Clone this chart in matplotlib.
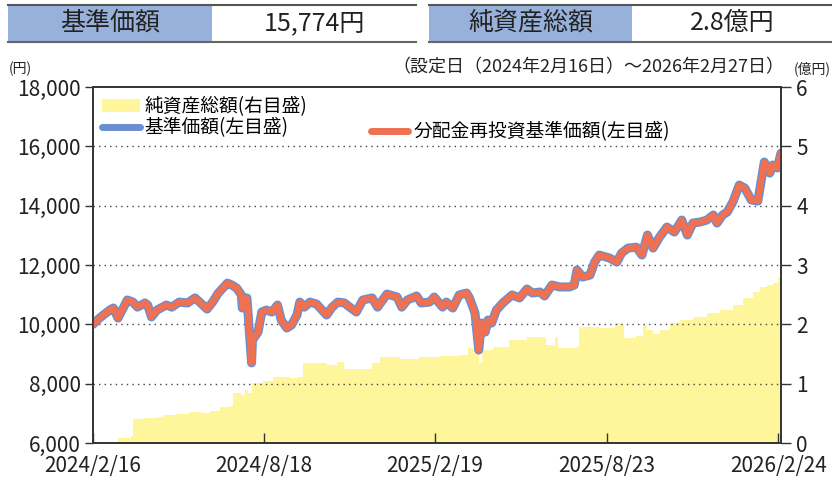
import matplotlib
matplotlib.use("Agg")
import matplotlib.pyplot as plt
from matplotlib.patches import Rectangle, Patch
from matplotlib.lines import Line2D
import pandas as pd

plt.rcParams['font.family'] = ['Noto Sans CJK JP', 'DejaVu Sans']

# 基準価額 (円)
nav_dates = [
    "2024-02-16", "2024-02-23", "2024-03-05", "2024-03-09", "2024-03-14", "2024-03-24",
    "2024-03-30", "2024-04-04", "2024-04-12", "2024-04-15", "2024-04-19", "2024-04-25",
    "2024-05-05", "2024-05-11", "2024-05-19", "2024-05-28", "2024-06-05", "2024-06-10",
    "2024-06-18", "2024-06-24", "2024-06-30", "2024-07-05", "2024-07-10", "2024-07-15",
    "2024-07-20", "2024-07-25", "2024-07-26", "2024-07-31", "2024-08-01", "2024-08-05",
    "2024-08-06", "2024-08-12", "2024-08-16", "2024-08-21", "2024-08-27", "2024-09-02",
    "2024-09-06", "2024-09-12", "2024-09-17", "2024-09-23", "2024-09-26", "2024-10-01",
    "2024-10-07", "2024-10-14", "2024-10-25", "2024-10-31", "2024-11-06", "2024-11-13",
    "2024-11-26", "2024-12-03", "2024-12-13", "2024-12-19", "2024-12-29", "2025-01-09",
    "2025-01-14", "2025-01-20", "2025-01-30", "2025-02-04", "2025-02-13", "2025-02-18",
    "2025-02-27", "2025-03-03", "2025-03-10", "2025-03-17", "2025-03-25", "2025-03-28",
    "2025-04-03", "2025-04-07", "2025-04-10", "2025-04-14", "2025-04-17", "2025-04-21",
    "2025-04-26", "2025-05-03", "2025-05-13", "2025-05-21", "2025-05-29", "2025-06-04",
    "2025-06-12", "2025-06-17", "2025-06-25", "2025-07-03", "2025-07-14", "2025-07-19",
    "2025-07-22", "2025-07-28", "2025-08-05", "2025-08-10", "2025-08-15", "2025-08-26",
    "2025-09-03", "2025-09-08", "2025-09-15", "2025-09-24", "2025-09-30", "2025-10-06",
    "2025-10-12", "2025-10-19", "2025-10-27", "2025-11-04", "2025-11-12", "2025-11-18",
    "2025-11-24", "2025-12-02", "2025-12-09", "2025-12-16", "2025-12-20", "2025-12-26",
    "2025-12-31", "2026-01-06", "2026-01-13", "2026-01-19", "2026-01-26", "2026-02-02",
    "2026-02-04", "2026-02-09", "2026-02-15", "2026-02-18", "2026-02-23", "2026-02-27",
]
nav_values = [
    10000, 10210, 10480, 10550, 10210, 10820,
    10750, 10580, 10720, 10650, 10250, 10480,
    10650, 10580, 10750, 10720, 10890, 10750,
    10515, 10750, 11050, 11220, 11390, 11320,
    11220, 10990, 10550, 10890, 10480, 8700,
    9470, 9740, 10415, 10480, 10415, 10650,
    10145, 9875, 9975, 10315, 10750, 10580,
    10750, 10685, 10315, 10580, 10750, 10720,
    10415, 10820, 10890, 10580, 11020, 10920,
    10580, 10820, 10955, 10720, 10750, 10920,
    10580, 10750, 10550, 10990, 11055, 10890,
    10380, 9135, 10044, 9740, 10145, 10044,
    10480, 10720, 10990, 10890, 11190, 11055,
    11090, 10955, 11325, 11260, 11260, 11325,
    11830, 11595, 11660, 12100, 12335, 12235,
    12100, 12400, 12570, 12600, 12335, 13010,
    12570, 12940, 13280, 13110, 13515, 13010,
    13415, 13450, 13515, 13685, 13415, 13685,
    13785, 14120, 14695, 14590, 14190, 14155,
    14525, 15470, 15100, 15370, 15270, 15774,
]
# 分配金再投資基準価額 (no distributions so far -> same as nav)
reinvest_values = list(nav_values)

# 純資産総額 (億円)
asset_dates = [
    "2024-02-16", "2024-03-08", "2024-03-14", "2024-03-28", "2024-03-30", "2024-04-10",
    "2024-04-25", "2024-05-01", "2024-05-14", "2024-05-30", "2024-06-10", "2024-06-13",
    "2024-06-21", "2024-07-02", "2024-07-12", "2024-07-16", "2024-07-25", "2024-07-29",
    "2024-08-01", "2024-08-06", "2024-08-17", "2024-08-28", "2024-09-15", "2024-09-24",
    "2024-09-29", "2024-10-14", "2024-10-25", "2024-11-05", "2024-11-13", "2024-12-11",
    "2024-12-13", "2024-12-21", "2025-01-12", "2025-02-02", "2025-02-24", "2025-03-17",
    "2025-03-26", "2025-04-01", "2025-04-07", "2025-04-11", "2025-04-22", "2025-05-10",
    "2025-05-29", "2025-06-08", "2025-06-19", "2025-06-28", "2025-07-01", "2025-07-22",
    "2025-07-24", "2025-08-15", "2025-08-26", "2025-09-01", "2025-09-09", "2025-09-11",
    "2025-09-24", "2025-09-30", "2025-10-01", "2025-10-06", "2025-10-12", "2025-10-19",
    "2025-10-30", "2025-11-10", "2025-11-24", "2025-12-09", "2025-12-23", "2026-01-06",
    "2026-01-17", "2026-01-28", "2026-02-04", "2026-02-12", "2026-02-18", "2026-02-24",
    "2026-02-27",
]
asset_values = [
    0.00, 0.02, 0.08, 0.12, 0.40, 0.42,
    0.44, 0.47, 0.49, 0.52, 0.52, 0.50,
    0.54, 0.61, 0.62, 0.84, 0.81, 0.89,
    0.84, 1.01, 1.05, 1.11, 1.10, 1.11,
    1.35, 1.35, 1.31, 1.37, 1.25, 1.25,
    1.35, 1.45, 1.42, 1.45, 1.47, 1.48,
    1.60, 1.52, 1.35, 1.57, 1.62, 1.74,
    1.79, 1.79, 1.65, 1.79, 1.60, 1.62,
    1.96, 1.94, 1.94, 2.02, 1.99, 1.77,
    1.80, 1.79, 1.99, 1.90, 1.84, 1.90,
    2.02, 2.07, 2.12, 2.19, 2.24, 2.33,
    2.44, 2.55, 2.63, 2.66, 2.70, 2.78,
    2.80,
]

xtick_dates = ["2024-02-16", "2024-08-18", "2025-02-19", "2025-08-23", "2026-02-24"]
xtick_labels = ["2024/2/16", "2024/8/18", "2025/2/19", "2025/8/23", "2026/2/24"]
start_date, end_date = "2024-02-16", "2026-02-27"

W, H = 832, 479
fig = plt.figure(figsize=(W / 100, H / 100), dpi=100)


def fx(px):
    return px / W


def fy(py):
    return 1 - py / H


# header boxes
header_blue = '#97b1da'
for x0, x1, xm, label, value in [(8, 212, 416, "基準価額", "15,774円"),
                                 (429, 632, 832, "純資産総額", "2.8億円")]:
    fig.add_artist(Rectangle((fx(x0), fy(42)), fx(x1 - x0), (42 - 4) / H,
                             transform=fig.transFigure, color=header_blue, lw=0))
    fig.add_artist(Line2D([fx(x0), fx(xm)], [fy(4.5), fy(4.5)], transform=fig.transFigure,
                          color='#555555', lw=1.5))
    fig.add_artist(Line2D([fx(x0), fx(xm)], [fy(41.5), fy(41.5)], transform=fig.transFigure,
                          color='#666666', lw=1.5))
    fig.text(fx((x0 + x1) / 2), fy(23), label, ha='center', va='center', fontsize=18, color='#222222')
    fig.text(fx((x1 + xm) / 2), fy(23), value, ha='center', va='center', fontsize=18, color='#222222')

fig.text(fx(784), fy(67), "（設定日（2024年2月16日）～2026年2月27日）", ha='right', va='center',
         fontsize=13, color='#222222')
fig.text(fx(9), fy(69), "(円)", ha='left', va='center', fontsize=10, color='#222222')
fig.text(fx(831), fy(69), "(億円)", ha='right', va='center', fontsize=10, color='#222222')

ax2 = fig.add_axes([fx(93), 1 - 443 / H, fx(781 - 93), (443 - 87) / H])
ax = ax2.twinx()
# nav axis on the left, asset axis on the right
ax.yaxis.tick_left()
ax2.yaxis.tick_right()
ax.set_zorder(ax2.get_zorder() + 1)
ax.patch.set_visible(False)

ad = pd.to_datetime(asset_dates)
ax2.fill_between(ad, asset_values, step='post', color='#fff59a', lw=0)
ax2.set_ylim(0, 6)
ax2.set_yticks(range(0, 7))

nd = pd.to_datetime(nav_dates)
ax.plot(nd, nav_values, color='#6a8fd0', lw=6.5, solid_joinstyle='round', solid_capstyle='round')
ax.plot(nd, reinvest_values, color='#f07052', lw=4.5, solid_joinstyle='round', solid_capstyle='round')
ax.set_ylim(6000, 18000)
ax.set_yticks(range(6000, 18001, 2000))
ax.set_yticklabels([f"{v:,}" for v in range(6000, 18001, 2000)])
for v in range(8000, 18000, 2000):
    ax.axhline(v, color='#444444', lw=1, ls=(0, (1, 3)), zorder=0.5)

ax.set_xlim(pd.Timestamp(start_date), pd.Timestamp(end_date))
ax2.set_xticks(pd.to_datetime(xtick_dates))
ax2.set_xticklabels(xtick_labels)

for a in (ax, ax2):
    for s in a.spines.values():
        s.set_color('#333333')
        s.set_linewidth(1.2)
ax.tick_params(axis='y', direction='out', length=6, width=1, labelsize=15, colors='#333333', pad=3)
ax2.tick_params(axis='y', direction='out', length=7, width=1, labelsize=15, colors='#333333', pad=4)
ax2.tick_params(axis='x', direction='in', length=7, width=1, labelsize=15, colors='#333333', pad=9)
for lab in ax.get_yticklabels() + ax2.get_yticklabels() + ax2.get_xticklabels():
    lab.set_color('#222222')

h1 = [Patch(facecolor='#fff59a', edgecolor='none', label="純資産総額(右目盛)"),
      Line2D([], [], color='#6a8fd0', lw=5, solid_capstyle='round', label="基準価額(左目盛)")]
leg1 = ax.legend(handles=h1, loc='upper left', bbox_to_anchor=(0.0, 1.0), frameon=False,
                 fontsize=13.5, handlelength=2.0, handletextpad=0.25, labelspacing=0.0,
                 borderaxespad=0.1)
ax.add_artist(leg1)
h2 = [Line2D([], [], color='#f07052', lw=5, solid_capstyle='round', label="分配金再投資基準価額(左目盛)")]
ax.legend(handles=h2, loc='upper left', bbox_to_anchor=(0.393, 0.925), frameon=False,
          fontsize=13.5, handlelength=2.0, handletextpad=0.25, borderaxespad=0.0)

fig.savefig('out.png', dpi=100)
